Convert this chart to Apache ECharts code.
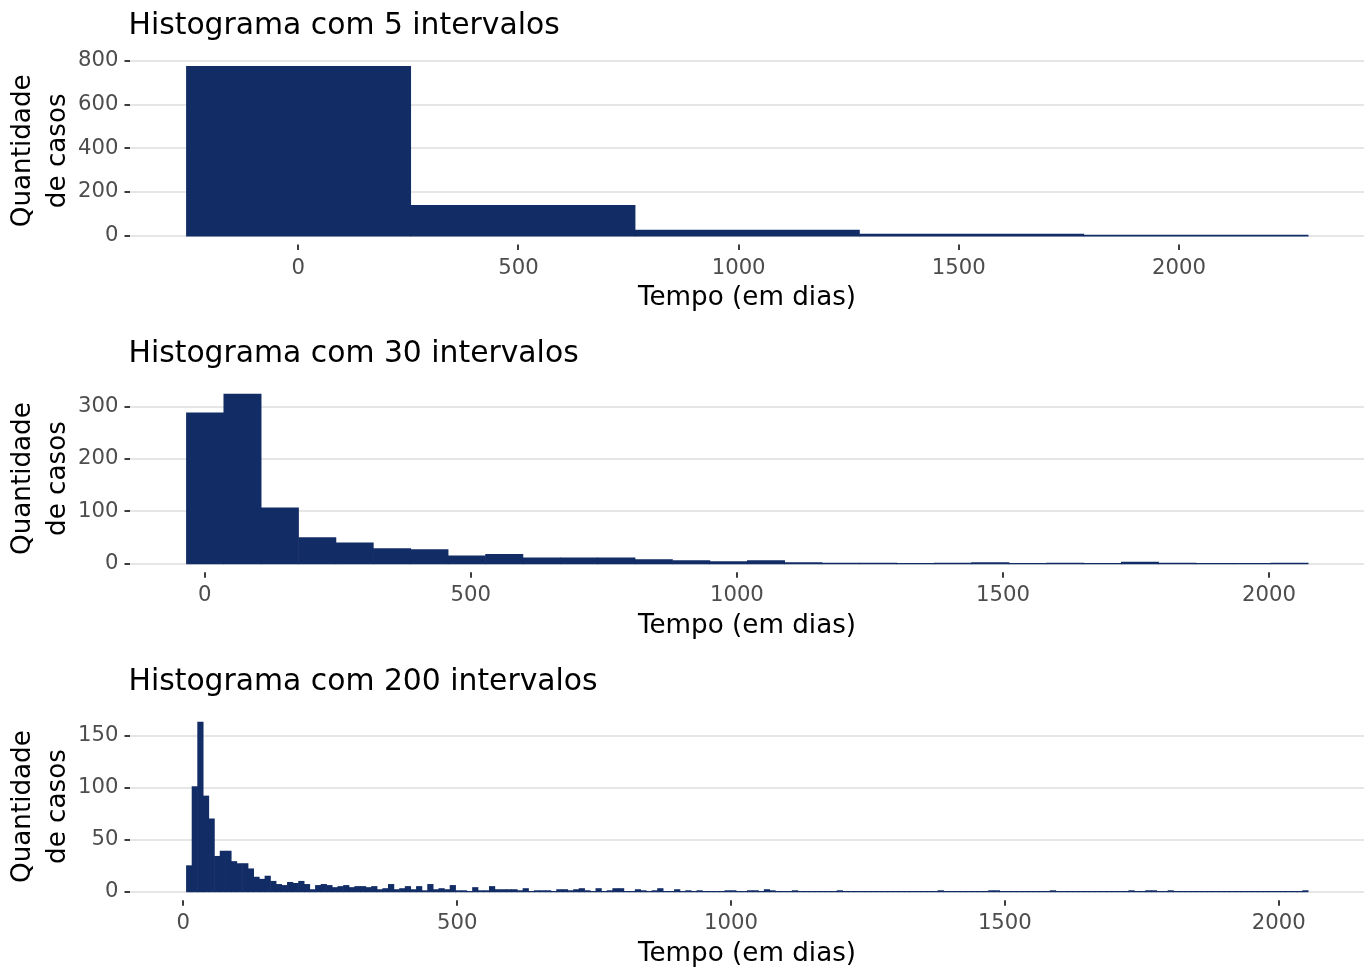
<!DOCTYPE html>
<html>
<head>
<meta charset="utf-8">
<script src="https://cdn.jsdelivr.net/npm/echarts@6/dist/echarts.min.js"></script>
<style>
  html, body { margin: 0; padding: 0; background: #ffffff; }
  #chart { width: 1367px; height: 970px; }
</style>
</head>
<body>
<div id="chart"></div>
<script>
// ---- Text ----
const panelTitles = ['Histograma com 5 intervalos', 'Histograma com 30 intervalos', 'Histograma com 200 intervalos'];
const xAxisTitle = 'Tempo (em dias)';
const yAxisTitle = 'Quantidade\nde casos';

// ---- Tick labels ----
const xTickValues = [0, 500, 1000, 1500, 2000];
const yTickValues5 = [0, 200, 400, 600, 800];
const yTickValues30 = [0, 100, 200, 300];
const yTickValues200 = [0, 50, 100, 150];

// ---- Bins (width in days, centre of the first bin) ----
const binWidth5 = 509.5;
const binWidth30 = 70.276;
const binWidth200 = 10.241;
const firstCenter5 = 0;
const firstCenter30 = 0;
const firstCenter200 = 10.241;

// ---- Counts per bin ----
const counts5 = [777, 140, 26, 8, 3];

const counts30 = [289, 325, 107, 50, 40, 29, 27, 15, 18, 11,
                  11, 11, 8, 6, 4, 6, 2, 1, 1, 0,
                  1, 2, 0, 1, 0, 3, 1, 0, 0, 1];

const counts200 = [
  25, 101, 163, 92, 70, 34, 39, 39, 29, 27,
  27, 22, 14, 12, 15, 10, 7, 6, 9, 8,
  10, 7, 2, 6, 7, 6, 4, 5, 6, 4,
  5, 5, 4, 5, 2, 3, 7, 2, 3, 5,
  2, 5, 1, 7, 2, 3, 2, 6, 1, 1,
  0, 4, 1, 1, 5, 2, 2, 2, 2, 1,
  3, 0, 1, 1, 1, 0, 2, 2, 1, 2,
  3, 1, 0, 3, 0, 1, 3, 3, 0, 0,
  2, 1, 0, 1, 3, 0, 0, 2, 0, 1,
  0, 1, 0, 0, 0, 0, 1, 1, 0, 0,
  1, 1, 0, 2, 1, 0, 0, 0, 1, 0,
  0, 0, 0, 0, 0, 0, 1, 0, 0, 0,
  0, 0, 0, 0, 0, 0, 0, 0, 0, 0,
  0, 0, 0, 0, 1, 0, 0, 0, 0, 0,
  0, 0, 0, 1, 1, 0, 0, 0, 0, 0,
  0, 0, 0, 0, 1, 0, 0, 0, 0, 0,
  0, 0, 0, 0, 0, 0, 0, 0, 1, 0,
  0, 1, 1, 0, 0, 1, 0, 0, 0, 0,
  0, 0, 0, 0, 0, 0, 0, 0, 0, 0,
  0, 0, 0, 0, 0, 0, 0, 0, 0, 1
];

// ---- Styling ----
const FONT = 'DejaVu Sans';
const TITLE_SIZE = 29.8;
const AXIS_TITLE_SIZE = 26.2;
const TICK_LABEL_SIZE = 21.2;
const BAR_COLOR = '#122c66';
const GRID_COLOR = '#dedede';
const TICK_COLOR = '#333333';
const LABEL_COLOR = '#4d4d4d';
const TICK_LENGTH = 5.5;
const TICK_WIDTH = 1.9;

const PANEL_LEFT = 130;
const PANEL_WIDTH = 1234;
const PANEL_HEIGHT = 186.5;
const PANEL_TOPS = [57.5, 385.3, 713.3];
const PANEL_STEP = 328;

const panels = [
  { width: binWidth5, first: firstCenter5, counts: counts5, yTicks: yTickValues5 },
  { width: binWidth30, first: firstCenter30, counts: counts30, yTicks: yTickValues30 },
  { width: binWidth200, first: firstCenter200, counts: counts200, yTicks: yTickValues200 }
];

function binRows(p) {
  return p.counts.map(function (c, i) {
    const center = p.first + i * p.width;
    return [center - p.width / 2, center + p.width / 2, c];
  });
}

// one histogram bin: a filled rectangle from 0 up to the count
function renderBin(params, api) {
  const x0 = api.value(0), x1 = api.value(1), v = api.value(2);
  const topPt = api.coord([x0, v]);
  const basePt = api.coord([x1, 0]);
  const zeroY = basePt[1];
  const top = Math.min(topPt[1], zeroY - 0.3);
  const bottom = zeroY + 0.9;
  return {
    type: 'rect',
    shape: { x: topPt[0], y: top, width: basePt[0] - topPt[0] + 0.6, height: bottom - top },
    style: { fill: BAR_COLOR }
  };
}

// x tick mark hanging below the panel's bottom edge
function makeTickRenderer(yBottom) {
  return function (params, api) {
    const pt = api.coord([api.value(0), yBottom]);
    const x = Math.round(pt[0]);
    return {
      type: 'rect',
      shape: { x: x - TICK_WIDTH / 2, y: pt[1] + 0.5, width: TICK_WIDTH, height: TICK_LENGTH },
      style: { fill: TICK_COLOR }
    };
  };
}

const plainNumber = function (v) { return String(v); };

const grids = [], xAxes = [], yAxes = [], series = [], graphics = [];

panels.forEach(function (p, k) {
  const rows = binRows(p);
  const lo = rows[0][0];
  const hi = rows[rows.length - 1][1];
  const xPad = 0.05 * (hi - lo);
  const maxCount = Math.max.apply(null, p.counts);
  const yMin = -0.05 * maxCount;

  grids.push({
    left: PANEL_LEFT, top: PANEL_TOPS[k], width: PANEL_WIDTH, height: PANEL_HEIGHT,
    outerBoundsMode: 'none'
  });

  xAxes.push({
    type: 'value', gridIndex: k, position: 'bottom',
    min: lo - xPad, max: hi + xPad,
    axisLine: { show: false, onZero: false },
    splitLine: { show: false },
    axisTick: { show: false },
    axisLabel: { customValues: xTickValues, formatter: plainNumber, color: LABEL_COLOR,
                 fontFamily: FONT, fontSize: TICK_LABEL_SIZE, margin: 13.5 }
  });

  yAxes.push({
    type: 'value', gridIndex: k, position: 'left',
    min: yMin, max: 1.05 * maxCount,
    axisLine: { show: false, onZero: false },
    splitLine: { show: true, lineStyle: { color: GRID_COLOR, width: 1.7 } },
    axisTick: { show: true, inside: false, length: TICK_LENGTH, lineStyle: { color: TICK_COLOR, width: TICK_WIDTH },
                customValues: p.yTicks },
    axisLabel: { customValues: p.yTicks, formatter: plainNumber, color: LABEL_COLOR,
                 fontFamily: FONT, fontSize: TICK_LABEL_SIZE, margin: 11.5 }
  });

  series.push({
    type: 'custom', xAxisIndex: k, yAxisIndex: k,
    data: rows, encode: { x: [0, 1], y: 2 },
    renderItem: renderBin, silent: true
  });

  series.push({
    type: 'custom', xAxisIndex: k, yAxisIndex: k, clip: false, z: 10,
    data: xTickValues.map(function (v) { return [v, 0]; }), encode: { x: 0, y: 1 },
    renderItem: makeTickRenderer(yMin), silent: true
  });

  // panel title
  graphics.push({
    type: 'text', x: 128.5, y: 26.5 + k * PANEL_STEP,
    style: { text: panelTitles[k], fill: '#000000', font: TITLE_SIZE + 'px "' + FONT + '"',
             textAlign: 'left', textVerticalAlign: 'middle' }
  });
  // x axis title
  graphics.push({
    type: 'text', x: PANEL_LEFT + PANEL_WIDTH / 2, y: 298 + k * PANEL_STEP,
    style: { text: xAxisTitle, fill: '#000000', font: AXIS_TITLE_SIZE + 'px "' + FONT + '"',
             textAlign: 'center', textVerticalAlign: 'middle' }
  });
  // y axis title
  graphics.push({
    type: 'text', x: 40.5, y: PANEL_TOPS[k] + PANEL_HEIGHT / 2, rotation: Math.PI / 2,
    style: { text: yAxisTitle, fill: '#000000', font: AXIS_TITLE_SIZE + 'px "' + FONT + '"', lineHeight: 35,
             textAlign: 'center', textVerticalAlign: 'middle' }
  });
});

const chart = echarts.init(document.getElementById('chart'), null, { renderer: 'canvas' });
chart.setOption({
  animation: false,
  backgroundColor: '#ffffff',
  grid: grids,
  xAxis: xAxes,
  yAxis: yAxes,
  series: series,
  graphic: graphics
});
</script>
</body>
</html>
